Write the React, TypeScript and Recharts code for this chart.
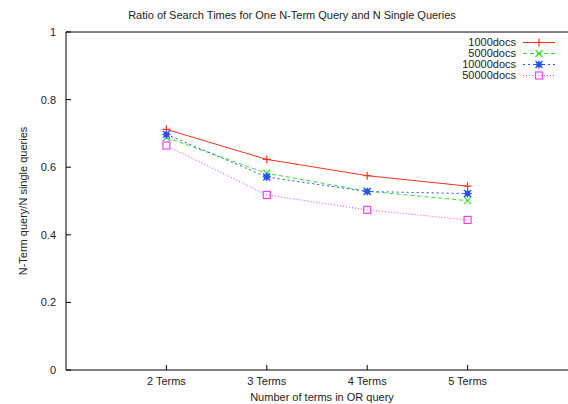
import React from 'react'
import { LineChart, Line, XAxis, YAxis } from 'recharts'

const categories = ['2 Terms', '3 Terms', '4 Terms', '5 Terms']
const termCounts = [2, 3, 4, 5]
const docs1000 = [0.712, 0.623, 0.575, 0.544]
const docs5000 = [0.688, 0.582, 0.529, 0.501]
const docs10000 = [0.697, 0.571, 0.528, 0.522]
const docs50000 = [0.664, 0.518, 0.474, 0.444]
const yTicks = [0, 0.2, 0.4, 0.6, 0.8, 1]

const FONT = '"Liberation Sans", Arial, Helvetica, sans-serif'
const INK = '#222'

const data = termCounts.map((n, i) => ({
  n,
  d1000: docs1000[i],
  d5000: docs5000[i],
  d10000: docs10000[i],
  d50000: docs50000[i],
}))

type Shape = 'plus' | 'cross' | 'star' | 'square'

const series: { key: string; name: string; color: string; dash?: string; shape: Shape }[] = [
  { key: 'd1000', name: '1000docs', color: '#f5311e', shape: 'plus' },
  { key: 'd5000', name: '5000docs', color: '#2fe02f', dash: '4 3', shape: 'cross' },
  { key: 'd10000', name: '10000docs', color: '#2a4dff', dash: '2 3', shape: 'star' },
  { key: 'd50000', name: '50000docs', color: '#ee44ee', dash: '1 2', shape: 'square' },
]

function Marker({ cx, cy, shape, color }: { cx: number; cy: number; shape: Shape; color: string }) {
  const r = 3.5
  if (shape === 'plus') {
    return (
      <g stroke={color} strokeWidth={1.2}>
        <line x1={cx - 4} y1={cy} x2={cx + 4} y2={cy} />
        <line x1={cx} y1={cy - 4} x2={cx} y2={cy + 4} />
      </g>
    )
  }
  if (shape === 'cross') {
    return (
      <g stroke={color} strokeWidth={1.2}>
        <line x1={cx - r} y1={cy - r} x2={cx + r} y2={cy + r} />
        <line x1={cx - r} y1={cy + r} x2={cx + r} y2={cy - r} />
      </g>
    )
  }
  if (shape === 'star') {
    return (
      <g stroke={color} strokeWidth={1.3}>
        <line x1={cx - 4} y1={cy} x2={cx + 4} y2={cy} />
        <line x1={cx} y1={cy - 4} x2={cx} y2={cy + 4} />
        <line x1={cx - r} y1={cy - r} x2={cx + r} y2={cy + r} />
        <line x1={cx - r} y1={cy + r} x2={cx + r} y2={cy - r} />
        <rect x={cx - 2.5} y={cy - 2.5} width={5} height={5} fill={color} stroke="none" />
      </g>
    )
  }
  return <rect x={cx - r} y={cy - r} width={r * 2} height={r * 2} fill="none" stroke={color} strokeWidth={1.2} />
}

const fmtY = (v: number) => (v === 0 || v === 1 ? String(v) : v.toFixed(1))
const fmtX = (v: number) => categories[termCounts.indexOf(v)] ?? ''

export default function App() {
  return (
    <div style={{ position: 'absolute', left: 0, top: 0, width: 568, height: 404, background: '#fff', fontFamily: FONT, overflow: 'hidden' }}>
      <div style={{ position: 'absolute', left: 92, top: 9, width: 400, textAlign: 'center', fontSize: 11, lineHeight: '13px', color: INK }}>
        Ratio of Search Times for One N-Term Query and N Single Queries
      </div>

      <LineChart width={568} height={404} data={data} margin={{ top: 2, right: 0, left: 0, bottom: 0 }}>
        <XAxis
          xAxisId="bottom"
          dataKey="n"
          type="number"
          domain={[1, 6]}
          ticks={termCounts}
          tickFormatter={fmtX}
          height={34}
          tickSize={-5}
          tickMargin={12}
          stroke="#000"
          tick={{ fontSize: 11, fontFamily: FONT, fill: INK }}
          label={{ value: 'Number of terms in OR query', position: 'insideBottom', offset: 3, dx: 5, style: { fontSize: 11, fontFamily: FONT, fill: INK } }}
        />
        <XAxis
          xAxisId="top"
          dataKey="n"
          type="number"
          orientation="top"
          domain={[1, 6]}
          ticks={termCounts}
          height={30}
          tickSize={-5}
          tick={false}
          stroke="#000"
        />
        <YAxis
          yAxisId="left"
          type="number"
          domain={[0, 1]}
          ticks={yTicks}
          tickFormatter={fmtY}
          width={66}
          tickSize={-5}
          tickMargin={15}
          stroke="#000"
          tick={{ fontSize: 11, fontFamily: FONT, fill: INK }}
          label={{ value: 'N-Term query/N single queries', angle: -90, position: 'insideLeft', offset: 23, style: { textAnchor: 'middle', fontSize: 11, fontFamily: FONT, fill: INK } }}
        />
        <YAxis
          yAxisId="right"
          type="number"
          orientation="right"
          domain={[0, 1]}
          ticks={yTicks}
          width={0}
          tickSize={-5}
          tick={false}
          axisLine={false}
          stroke="#000"
        />
        {series.map((s) => (
          <Line
            key={s.key}
            xAxisId="bottom"
            yAxisId="left"
            dataKey={s.key}
            name={s.name}
            type="linear"
            stroke={s.color}
            strokeWidth={1}
            strokeDasharray={s.dash}
            isAnimationActive={false}
            dot={(p: any) => <Marker key={`${s.key}-${p.index}`} cx={p.cx} cy={p.cy} shape={s.shape} color={s.color} />}
            activeDot={false}
          />
        ))}
      </LineChart>

      <div style={{ position: 'absolute', left: 380, top: 37, width: 180, fontSize: 11, color: INK }}>
        {series.map((s) => (
          <div key={s.key} style={{ display: 'flex', alignItems: 'center', height: 11 }}>
            <span style={{ width: 136, textAlign: 'right', lineHeight: '11px' }}>{s.name}</span>
            <svg width={44} height={11} style={{ display: 'block' }}>
              <line x1={7} y1={5.5} x2={39} y2={5.5} stroke={s.color} strokeWidth={1} strokeDasharray={s.dash} />
              <Marker cx={23} cy={5.5} shape={s.shape} color={s.color} />
            </svg>
          </div>
        ))}
      </div>
    </div>
  )
}
